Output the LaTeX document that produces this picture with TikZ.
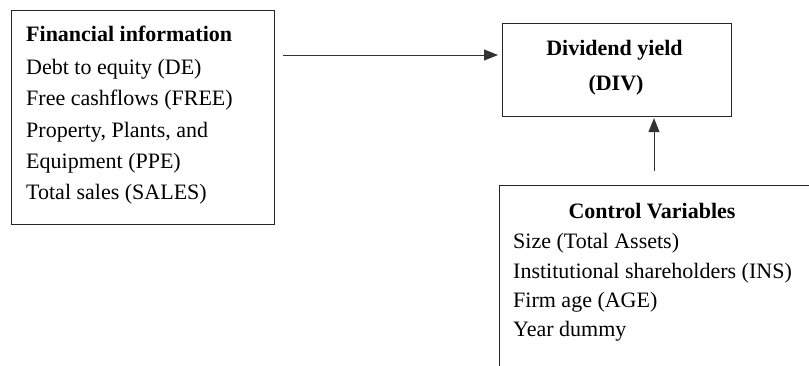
\documentclass[tikz,border=0pt]{standalone}
\usepackage{fontspec}
\setmainfont{Liberation Serif}
\usetikzlibrary{arrows.meta,calc}
\begin{document}
\begin{tikzpicture}[x=1pt,y=-1pt,
  box/.style={draw=black!85,line width=1.1pt,inner sep=0pt,anchor=north west},
  txt/.style={anchor=base west,inner sep=0pt,font=\fontsize{22}{26}\selectfont},
  btxt/.style={anchor=base,inner sep=0pt,font=\fontsize{22}{26}\selectfont\bfseries},
  arr/.style={draw=black!80,line width=1pt,-{Triangle[length=14pt,width=11pt]}}]
\useasboundingbox (0,0) rectangle (809,365);
\clip (0,0) rectangle (809,365);
% boxes
\node[box,minimum width=263pt,minimum height=214pt] (fin) at (11,10) {};
\node[box,minimum width=229pt,minimum height=93pt] (div) at (502,23) {};
\node[box,minimum width=340pt,minimum height=220pt] (ctrl) at (499,185) {};
% financial information
\node[txt,font=\fontsize{22}{26}\selectfont\bfseries] (f1) at (26,41) {Financial information};
\node[txt] (f2) at (26,74) {Debt to equity (DE)};
\node[txt] (f3) at (26,105) {Free cashflows (FREE)};
\node[txt] (f4) at (26,137) {Property, Plants, and};
\node[txt] (f5) at (26,168) {Equipment (PPE)};
\node[txt] (f6) at (26,199) {Total sales (SALES)};
% dividend yield
\node[btxt] (d1) at (614.5,55) {Dividend yield};
\node[btxt] (d2) at (616,90) {(DIV)};
% control variables
\node[btxt] (c1) at (652,218) {Control Variables};
\node[txt] (c2) at (513,248) {Size (Total Assets)};
\node[txt] (c3) at (513,278) {Institutional shareholders (INS)};
\node[txt] (c4) at (513,307) {Firm age (AGE)};
\node[txt] (c5) at (513,336) {Year dummy};
% arrows
\draw[arr] ($(fin.north east)+(8,45)$) -- ($(div.north west)+(-4,32)$);
\draw[arr] ($(ctrl.north west)+(155,-14)$) -- ($(div.south west)+(152,1)$);
\end{tikzpicture}
\end{document}
